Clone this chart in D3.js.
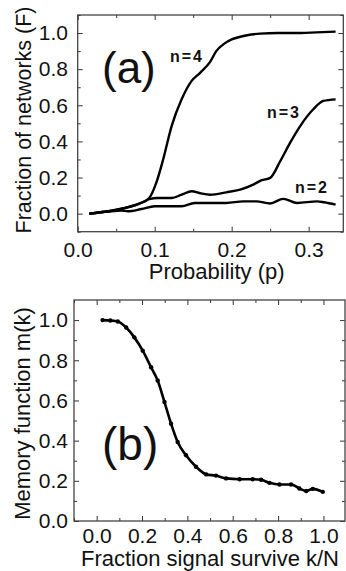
<!DOCTYPE html>
<html>
<head>
<meta charset="utf-8">
<script src="https://cdn.jsdelivr.net/npm/d3@7"></script>
<style>
  body { margin: 0; background: #fff; }
  text { font-family: "Liberation Sans", Arial, sans-serif; fill: #111; }
  .tick line { stroke: #333; }
</style>
</head>
<body>
<div id="chart"></div>
<script>
// Panel (a): fraction of networks vs probability, one series per n
var n4P = [0.015, 0.04, 0.06, 0.08, 0.093, 0.102, 0.111, 0.122, 0.135, 0.148, 0.159, 0.172, 0.18, 0.19, 0.2, 0.21, 0.22, 0.237, 0.26, 0.29, 0.31, 0.335];
var n4F = [0, 0.013, 0.03, 0.055, 0.087, 0.17, 0.30, 0.485, 0.633, 0.735, 0.78, 0.84, 0.9, 0.94, 0.965, 0.978, 0.988, 0.997, 1.0, 1.0, 1.004, 1.008];

var n3P = [0.015, 0.04, 0.06, 0.08, 0.093, 0.104, 0.122, 0.135, 0.148, 0.16, 0.172, 0.193, 0.211, 0.228, 0.239, 0.25, 0.263, 0.276, 0.289, 0.306, 0.319, 0.335];
var n3F = [0, 0.013, 0.03, 0.055, 0.08, 0.087, 0.087, 0.105, 0.124, 0.112, 0.105, 0.118, 0.133, 0.161, 0.185, 0.198, 0.29, 0.393, 0.485, 0.578, 0.624, 0.633];

var n2P = [0.015, 0.04, 0.057, 0.065, 0.083, 0.1, 0.135, 0.152, 0.178, 0.193, 0.215, 0.232, 0.25, 0.267, 0.285, 0.311, 0.32, 0.335];
var n2F = [0, 0.012, 0.017, 0.013, 0.026, 0.041, 0.041, 0.059, 0.059, 0.059, 0.068, 0.068, 0.056, 0.082, 0.059, 0.068, 0.063, 0.05];

var seriesNames = ["n=4", "n=3", "n=2"];

// Panel (b): memory function vs fraction of signal surviving
var kVals = [0.026, 0.06, 0.093, 0.13, 0.166, 0.203, 0.24, 0.269, 0.299, 0.328, 0.357, 0.394, 0.438, 0.483, 0.526, 0.571, 0.63, 0.688, 0.725, 0.762, 0.806, 0.857, 0.894, 0.924, 0.953, 0.997];
var mVals = [1.0, 0.998, 0.993, 0.963, 0.914, 0.848, 0.765, 0.699, 0.592, 0.484, 0.393, 0.327, 0.27, 0.232, 0.226, 0.212, 0.208, 0.208, 0.205, 0.19, 0.182, 0.182, 0.162, 0.149, 0.16, 0.145];

// tick values
var aXMajor = [0.0, 0.1, 0.2, 0.3];
var aXMinor = [0.05, 0.15, 0.25];
var aYMajor = [0.0, 0.2, 0.4, 0.6, 0.8, 1.0];
var aYMinor = [-0.1, 0.1, 0.3, 0.5, 0.7, 0.9, 1.1];
var bXMajor = [0.0, 0.2, 0.4, 0.6, 0.8, 1.0];
var bXMinor = [-0.1, 0.1, 0.3, 0.5, 0.7, 0.9];
var bYMajor = [0.0, 0.2, 0.4, 0.6, 0.8, 1.0];
var bYMinor = [0.1, 0.3, 0.5, 0.7, 0.9];

var svgWidth = 346;
var svgHeight = 571;

var svg = d3.select("#chart")
  .append("svg")
  .attr("width", svgWidth)
  .attr("height", svgHeight);

var fmt = d3.format(".1f");

// draws the frame + inward ticks on all four sides
function drawFrame(x, y, xMajor, xMinor, yMajor, yMinor, xPad, yPad) {
  var x0 = x.range()[0], x1 = x.range()[1];
  var y0 = y.range()[0], y1 = y.range()[1];
  var g = svg.append("g");

  // bottom with labels
  g.append("g")
    .attr("transform", `translate(0, ${y0})`)
    .call(d3.axisBottom(x).tickValues(xMajor).tickSizeInner(-5).tickSizeOuter(0).tickPadding(xPad).tickFormat(fmt))
    .call(a => a.select(".domain").remove())
    .selectAll("text").style("font-size", "21px").attr("fill", "#111");
  g.append("g")
    .attr("transform", `translate(0, ${y0})`)
    .call(d3.axisBottom(x).tickValues(xMinor).tickSizeInner(-3).tickSizeOuter(0).tickFormat(""))
    .call(a => a.select(".domain").remove());
  // top
  g.append("g")
    .attr("transform", `translate(0, ${y1})`)
    .call(d3.axisTop(x).tickValues(xMajor).tickSizeInner(-5).tickSizeOuter(0).tickFormat(""))
    .call(a => a.select(".domain").remove());
  g.append("g")
    .attr("transform", `translate(0, ${y1})`)
    .call(d3.axisTop(x).tickValues(xMinor).tickSizeInner(-3).tickSizeOuter(0).tickFormat(""))
    .call(a => a.select(".domain").remove());

  // left with labels
  g.append("g")
    .attr("transform", `translate(${x0}, 0)`)
    .call(d3.axisLeft(y).tickValues(yMajor).tickSizeInner(-5).tickSizeOuter(0).tickPadding(yPad).tickFormat(fmt))
    .call(a => a.select(".domain").remove())
    .selectAll("text").style("font-size", "21px").attr("fill", "#111");
  g.append("g")
    .attr("transform", `translate(${x0}, 0)`)
    .call(d3.axisLeft(y).tickValues(yMinor).tickSizeInner(-3).tickSizeOuter(0).tickFormat(""))
    .call(a => a.select(".domain").remove());
  // right
  g.append("g")
    .attr("transform", `translate(${x1}, 0)`)
    .call(d3.axisRight(y).tickValues(yMajor).tickSizeInner(-5).tickSizeOuter(0).tickFormat(""))
    .call(a => a.select(".domain").remove());
  g.append("g")
    .attr("transform", `translate(${x1}, 0)`)
    .call(d3.axisRight(y).tickValues(yMinor).tickSizeInner(-3).tickSizeOuter(0).tickFormat(""))
    .call(a => a.select(".domain").remove());

  g.append("rect")
    .attr("x", x0)
    .attr("y", y1)
    .attr("width", x1 - x0)
    .attr("height", y0 - y1)
    .attr("fill", "none")
    .attr("stroke", "#444")
    .attr("stroke-width", 1.3);
}

// ---------- panel (a) ----------
var xA = d3.scaleLinear().domain([0, 0.345]).range([77.7, 343.3]);
var yA = d3.scaleLinear().domain([-0.1, 1.1]).range([231.7, 15]);

drawFrame(xA, yA, aXMajor, aXMinor, aYMajor, aYMinor, 10.4, 9.7);

var lineA = d3.line()
  .x(d => xA(d[0]))
  .y(d => yA(d[1]))
  .curve(d3.curveMonotoneX);

[[n4P, n4F], [n3P, n3F], [n2P, n2F]].forEach(function(s) {
  var pts = s[0].map((p, i) => [p, s[1][i]]);
  svg.append("path")
    .datum(pts)
    .attr("d", lineA)
    .attr("fill", "none")
    .attr("stroke", "#000")
    .attr("stroke-width", 2.4)
    .attr("stroke-linejoin", "round");
});

// series labels
var labelPos = [[170, 62], [267, 118], [295, 193]];
seriesNames.forEach(function(name, i) {
  svg.append("text")
    .attr("x", labelPos[i][0])
    .attr("y", labelPos[i][1])
    .style("font-size", "16px")
    .style("font-weight", "bold")
    .style("letter-spacing", "2px")
    .text(name);
});

svg.append("text")
  .attr("x", 102)
  .attr("y", 83)
  .style("font-size", "44px")
  .text("(a)");

svg.append("text")
  .attr("x", 216.7)
  .attr("y", 279)
  .attr("text-anchor", "middle")
  .style("font-size", "22px")
  .text("Probability (p)");

svg.append("text")
  .attr("transform", "translate(31, 120) rotate(-90)")
  .attr("text-anchor", "middle")
  .style("font-size", "21.5px")
  .text("Fraction of networks (F)");

// ---------- panel (b) ----------
var xB = d3.scaleLinear().domain([-0.1, 1.095]).range([74, 345]);
var yB = d3.scaleLinear().domain([0, 1.1]).range([521, 300]);

drawFrame(xB, yB, bXMajor, bXMinor, bYMajor, bYMinor, 7.1, 6);

var ptsB = kVals.map((k, i) => [k, mVals[i]]);

svg.append("path")
  .datum(ptsB)
  .attr("d", d3.line().x(d => xB(d[0])).y(d => yB(d[1])).curve(d3.curveMonotoneX))
  .attr("fill", "none")
  .attr("stroke", "#000")
  .attr("stroke-width", 2.6)
  .attr("stroke-linejoin", "round");

svg.append("g")
  .selectAll("circle")
  .data(ptsB)
  .enter()
  .append("circle")
  .attr("cx", d => xB(d[0]))
  .attr("cy", d => yB(d[1]))
  .attr("r", 2.2)
  .attr("fill", "#000");

svg.append("text")
  .attr("x", 102)
  .attr("y", 460)
  .style("font-size", "46px")
  .text("(b)");

svg.append("text")
  .attr("x", 210)
  .attr("y", 566)
  .attr("text-anchor", "middle")
  .style("font-size", "22px")
  .text("Fraction signal survive k/N");

svg.append("text")
  .attr("transform", "translate(30, 413.5) rotate(-90)")
  .attr("text-anchor", "middle")
  .style("font-size", "22px")
  .text("Memory function m(k)");
</script>
</body>
</html>
